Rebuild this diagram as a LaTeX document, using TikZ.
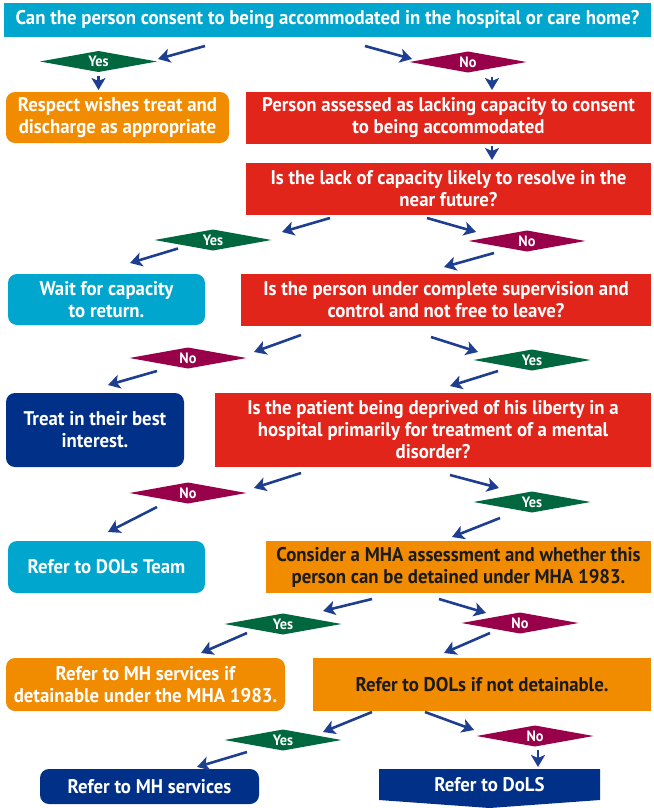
\documentclass[tikz,border=0pt]{standalone}
\usepackage{fontspec}
\setmainfont{PT Sans}[FakeStretch=0.95]
\usetikzlibrary{shapes.geometric,arrows.meta,calc,backgrounds}
\definecolor{nhscyan}{HTML}{00A6CE}
\definecolor{nhsred}{HTML}{E1251B}
\definecolor{nhsorange}{HTML}{F18B00}
\definecolor{nhsgreen}{HTML}{00673F}
\definecolor{nhsplum}{HTML}{98004A}
\definecolor{nhsblue}{HTML}{003087}
\definecolor{arrowblue}{HTML}{1E3F8F}
\definecolor{darktext}{HTML}{1A1A1A}
\begin{document}
\begin{tikzpicture}[x=1pt, y=-1pt,
    >={Stealth[length=12pt,width=14pt,inset=3pt]},
    box/.style={rectangle, inner sep=0pt, outer sep=0pt, align=center, text=white,
        font=\bfseries\fontsize{19.8}{22}\selectfont},
    question/.style={box, fill=nhsred},
    action/.style={box, fill=nhsorange, text=darktext},
    roundbox/.style={box, rounded corners=9pt},
    decide/.style={diamond, aspect=5, inner sep=0pt, outer sep=0pt, text=white,
        minimum width=117, minimum height=21, font=\bfseries\fontsize{15}{15}\selectfont},
    yesdia/.style={decide, fill=nhsgreen},
    nodia/.style={decide, fill=nhsplum},
    flow/.style={->, draw=arrowblue, line width=2.6pt}]
\useasboundingbox (0,0) rectangle (653,808);

\node[box, fill=nhscyan, minimum width=647, minimum height=34] (top) at (327.5,20)
    {Can the person consent to being accommodated in the hospital or care home?};
\node[yesdia] (yes1) at (98.5,61.5) {Yes};
\node[nodia] (no1) at (468,62) {No};
\node[action, roundbox, minimum width=223, minimum height=51] (respect) at (117.5,117.5)
    {Respect wishes treat and\\discharge as appropriate};
\node[question, minimum width=405, minimum height=52] (assess) at (448.5,118)
    {Person assessed as lacking capacity to consent\\to being accommodated};
\node[question, minimum width=405, minimum height=52] (lack) at (448.5,189)
    {Is the lack of capacity likely to resolve in the\\near future?};
\node[yesdia] (yes2) at (213,240) {Yes};
\node[nodia] (no2) at (527,241) {No};
\node[roundbox, fill=nhscyan, minimum width=197, minimum height=51] (wait) at (106.5,299.5)
    {Wait for capacity\\to return.};
\node[question, minimum width=410, minimum height=52] (superv) at (446,300)
    {Is the person under complete supervision and\\control and not free to leave?};
\node[nodia] (no3) at (188,358) {No};
\node[yesdia] (yes3) at (532,360) {Yes};
\node[roundbox, fill=nhsblue, minimum width=178, minimum height=74] (treat) at (95,430)
    {Treat in their best\\interest.};
\node[question, minimum width=436, minimum height=74] (patient) at (433,430)
    {Is the patient being deprived of his liberty in a\\hospital primarily for treatment of a mental\\disorder?};
\node[nodia] (no4) at (188,493) {No};
\node[yesdia] (yes4) at (532,502) {Yes};
\node[roundbox, fill=nhscyan, minimum width=197, minimum height=52] (team) at (106.5,567)
    {Refer to DOLs Team};
\node[action, minimum width=385, minimum height=52] (mha) at (458.5,567)
    {Consider a MHA assessment and whether this\\person can be detained under MHA 1983.};
\node[yesdia] (yes5) at (283,624) {Yes};
\node[nodia] (no5) at (520,623) {No};
\node[action, roundbox, minimum width=279, minimum height=53] (mhif) at (145.5,684.5)
    {Refer to MH services if\\detainable under the MHA 1983.};
\node[action, minimum width=338, minimum height=53] (dolsif) at (482,684.5)
    {Refer to DOLs if not detainable.};
\node[yesdia] (yes6) at (283,740) {Yes};
\node[nodia] (no6) at (535,736) {No};
\node[roundbox, fill=nhsblue, minimum width=219, minimum height=35] (mhs) at (149.5,786.5)
    {Refer to MH services};
\node[box, minimum width=221, minimum height=31] (dols) at (489.5,784.5) {Refer to DoLS};
\begin{scope}[on background layer]
\fill[nhsblue] (dols.north west) -- (dols.north east) -- (dols.south east)
    -- ($(dols.south)+(0,8)$) -- (dols.south west) -- cycle;
\end{scope}

\draw[flow] ($(top.south)+(-122.5,9)$) -- ($(yes1.east)+(1,-2.5)$);
\draw[flow] ($(top.south)+(37.5,9)$) -- ($(no1.west)+(2.5,-3)$);
\draw[flow] ($(yes1.south)+(0,4)$) -- ($(respect.north)+(-19,-2)$);
\draw[flow] ($(no1.south)+(24,4)$) -- ($(assess.north)+(43.5,-2)$);
\draw[flow] ($(assess.south)+(43.5,2)$) -- ($(lack.north)+(43.5,-3)$);
\draw[flow] ($(lack.south)+(-118.5,3)$) -- ($(yes2.east)+(10.5,-8)$);
\draw[flow] ($(lack.south)+(-21.5,3)$) -- ($(no2.west)+(7.5,-9)$);
\draw[flow] ($(yes2.south)+(-35,-2)$) -- ($(wait.north)+(23.5,-11)$);
\draw[flow] ($(no2.south)+(-33,1.5)$) -- ($(superv.north)+(-2,-7)$);
\draw[flow] ($(superv.south)+(-145,9)$) -- ($(no3.east)+(7.5,-6)$);
\draw[flow] ($(superv.south)+(-15,11)$) -- ($(yes3.west)+(4.5,-8)$);
\draw[flow] ($(no3.south)+(-31,2.5)$) -- ($(treat.north)+(13,-8)$);
\draw[flow] ($(yes3.south)+(-34,0.5)$) -- ($(patient.north)+(17,-7)$);
\draw[flow] ($(patient.south)+(-132,6)$) -- ($(no4.east)+(7.5,-5)$);
\draw[flow] ($(patient.south)+(17,8)$) -- ($(yes4.west)+(25.5,-14)$);
\draw[flow] ($(no4.south)+(-31,3.5)$) -- ($(team.north)+(1.5,-9)$);
\draw[flow] ($(yes4.south)+(-32,5.5)$) -- ($(mha.north)+(-6.5,-4)$);
\draw[flow] ($(mha.south)+(-86.5,6)$) -- ($(yes5.east)+(-18.5,-13)$);
\draw[flow] ($(mha.south)+(-19.5,6)$) -- ($(no5.west)+(24.5,-10)$);
\draw[flow] ($(yes5.south)+(-36,-1.5)$) -- ($(mhif.north)+(55.5,-5)$);
\draw[flow] ($(no5.south)+(-30,-0.5)$) -- ($(dolsif.north)+(-38,-5)$);
\draw[flow] ($(dolsif.south)+(-110,1)$) -- ($(yes6.east)+(-18.5,-8)$);
\draw[flow] ($(dolsif.south)+(-57,1)$) -- ($(no6.west)+(-2.5,-6)$);
\draw[flow] ($(yes6.south)+(-36,1.5)$) -- ($(mhs.north)+(47.5,-2)$);
\draw[flow] ($(no6.south)+(3,3.5)$) -- ($(dols.north)+(48.5,-2)$);
\end{tikzpicture}
\end{document}
